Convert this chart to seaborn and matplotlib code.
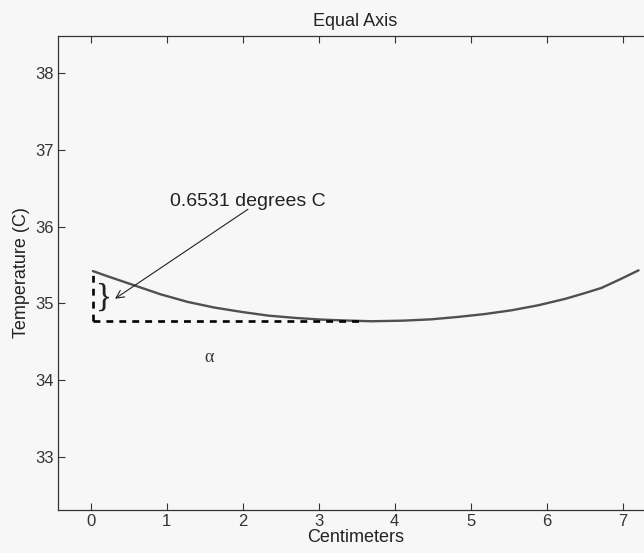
import matplotlib
matplotlib.use("Agg")
import matplotlib.pyplot as plt
import seaborn as sns
import pandas as pd

# Temperature profile along the bar
position_cm = [0.03, 0.21, 0.57, 0.92, 1.28, 1.63, 1.99, 2.34, 2.70, 3.05, 3.41,
               3.70, 4.12, 4.48, 4.83, 5.18, 5.54, 5.89, 6.25, 6.49, 6.72, 6.96, 7.21]
temperature_c = [35.4201, 35.357, 35.236, 35.118, 35.018, 34.945, 34.888, 34.84, 34.81, 34.788, 34.775,
                 34.767, 34.775, 34.792, 34.823, 34.86, 34.91, 34.975, 35.06, 35.13, 35.20, 35.31, 35.43]

x_ticks = [0, 1, 2, 3, 4, 5, 6, 7]
y_ticks = [33, 34, 35, 36, 37, 38]

drop_label = "0.6531 degrees C"
min_line_end = 3.6

df = pd.DataFrame({"Centimeters": position_cm, "Temperature (C)": temperature_c})

sns.set_theme(style="ticks")
plt.rcParams["font.family"] = ["Liberation Sans", "DejaVu Sans"]

fig = plt.figure(figsize=(6.44, 5.53), dpi=100)
fig.patch.set_facecolor("#f7f7f7")
ax = fig.add_axes([0.090, 0.0778, 0.924, 0.857])
ax.set_facecolor("#f7f7f7")

sns.lineplot(data=df, x="Centimeters", y="Temperature (C)", ax=ax,
             color="#505050", linewidth=1.7, sort=False)

x0 = position_cm[0]
t_start = temperature_c[0]
t_min = min(temperature_c)
dash = (0, (2.6, 2.3))
ax.plot([x0, x0], [t_min, t_start], color="black", linewidth=1.9, linestyle=dash)
ax.plot([x0, min_line_end], [t_min, t_min], color="black", linewidth=1.9, linestyle=dash)

# brace marking the drop
ax.text(0.17, 35.08, "}", fontsize=24, ha="center", va="center",
        color="#222222", family="Liberation Serif")

ax.text(1.04, 36.33, drop_label, fontsize=14, color="#222222", ha="left", va="center")
ax.annotate("", xy=(0.32, 35.06), xytext=(2.07, 36.225),
            arrowprops=dict(arrowstyle="->", color="#222222", lw=0.8,
                            shrinkA=0, shrinkB=0, mutation_scale=14))

ax.text(1.56, 34.30, "α", fontsize=13, ha="center", va="center", color="#333333",
        family="Liberation Serif")

ax.set_xlim(-0.43, 7.4)
ax.set_ylim(32.31, 38.48)
ax.set_xticks(x_ticks)
ax.set_yticks(y_ticks)
ax.tick_params(direction="in", length=5, width=0.8, labelsize=12, colors="#333333",
               top=True, right=True, pad=3)
for s in ax.spines.values():
    s.set_color("#333333")
    s.set_linewidth(0.9)

ax.set_title("Equal Axis", fontsize=13, color="#222222", pad=7)
ax.set_xlabel("Centimeters", fontsize=13, color="#222222", labelpad=0)
ax.set_ylabel("Temperature (C)", fontsize=13, color="#222222", labelpad=4)

fig.savefig("out.png", dpi=100, facecolor=fig.get_facecolor())
